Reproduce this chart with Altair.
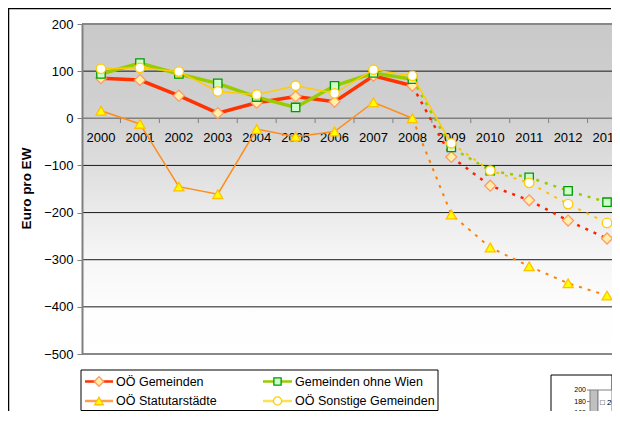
import altair as alt
import pandas as pd

# ---------------- data ----------------
years = list(range(2000, 2014))
series_names = ["OÖ Gemeinden", "Gemeinden ohne Wien", "OÖ Statutarstädte", "OÖ Sonstige Gemeinden"]
oo_gemeinden = [85, 81, 48, 11, 33, 46, 35, 90, 69, -82, -143, -174, -217, -255]
ohne_wien = [94, 117, 94, 74, 45, 23, 69, 96, 83, -62, -111, -125, -154, -178]
statutar = [16, -12, -145, -161, -23, -39, -28, 34, 0, -204, -274, -314, -350, -376]
sonstige = [105, 107, 99, 57, 50, 69, 53, 103, 90, -53, -111, -137, -182, -222]
solid_until = [2008, 2008, 2008, 2009]
y_ticks = [-500, -400, -300, -200, -100, 0, 100, 200]
grid_values = [100, -100, -200, -300, -400]
inset_labels = ["200", "180", "160"]

series_values = [oo_gemeinden, ohne_wien, statutar, sonstige]

# ---------------- styles ----------------
FONT = "Liberation Sans"
W, H = 530, 330
line_colors = ["#FF3300", "#99CC00", "#FF8C1A", "#FFCC00"]
dot_colors = ["#FF2200", "#99CC00", "#FF8000", "#FFC000"]
line_widths = [3.5, 3.5, 1.5, 1.5]
dot_widths = [2.5, 2.5, 2.0, 2.0]
shapes = ["diamond", "square", "triangle-up", "circle"]
fills = ["#FFF0A8", "#CCFFCC", "#FFFF00", "#FFFFFF"]
strokes = ["#FF9966", "#009900", "#FFC000", "#FFCC00"]
sizes = [120, 70, 100, 90]
legend_line_colors = ["#FF3300", "#99CC00", "#FFA050", "#FFE050"]

xscale = alt.Scale(domain=[1999.512, 2013.128], nice=False, zero=False)
yscale = alt.Scale(domain=[-500, 200], nice=False, zero=False)
yaxis = alt.Axis(
    values=y_ticks, grid=False, title="Euro pro EW",
    domainColor="#808080", domainWidth=2, tickColor="#808080", tickSize=5,
    labelFontSize=13, labelColor="black", labelPadding=4, labelFont=FONT,
    titleFont=FONT, titleFontSize=13.5, titleFontWeight="bold", titleColor="black",
    titleX=-56, titleY=164, titleAlign="center", titleBaseline="middle", titleAngle=-90,
    zindex=1,
)


def Y(field):
    return alt.Y(field, scale=yscale, axis=yaxis)


def X(field):
    return alt.X(field, scale=xscale, axis=None)


one = pd.DataFrame({"a": [0]})

# background gradient
bg = alt.Chart(one).mark_rect(
    color=alt.LinearGradient(
        gradient="linear", x1=0, x2=0, y1=0, y2=1,
        stops=[
            alt.GradientStop(color="#c9c9c9", offset=0),
            alt.GradientStop(color="#d2d2d2", offset=0.285),
            alt.GradientStop(color="#dedede", offset=0.43),
            alt.GradientStop(color="#ebebeb", offset=0.57),
            alt.GradientStop(color="#f6f6f6", offset=0.71),
            alt.GradientStop(color="#fdfdfd", offset=0.86),
            alt.GradientStop(color="#ffffff", offset=1),
        ],
    )
).encode(x=alt.value(0), x2=alt.value(W), y=alt.value(0), y2=alt.value(H))

grid_df = pd.DataFrame({"v": grid_values})
grid = alt.Chart(grid_df).mark_rule(color="#1a1a1a", strokeWidth=1).encode(y=Y("v:Q"))

border_df = pd.DataFrame({"v": [200, -500]})
borders = alt.Chart(border_df).mark_rule(color="#888888", strokeWidth=2).encode(y=Y("v:Q"))
zero_df = pd.DataFrame({"v": [0]})
zero_line = alt.Chart(zero_df).mark_rule(color="#808080", strokeWidth=1.5).encode(y=Y("v:Q"))
tick_df = pd.DataFrame({"b": [y + 0.5 for y in years[:-1]], "y0": 0, "y1": -10})
zticks = alt.Chart(tick_df).mark_rule(color="#808080", strokeWidth=1).encode(
    x=X("b:Q"), y=Y("y0:Q"), y2="y1:Q",
)
lab_df = pd.DataFrame({"year": years, "y0": 0, "lab": [str(y) for y in years]})
xlabels = alt.Chart(lab_df).mark_text(
    font=FONT, fontSize=13, color="black", dy=20, baseline="middle"
).encode(x=X("year:Q"), y=Y("y0:Q"), text="lab:N")

layers = [bg, grid, borders, zero_line, zticks, xlabels]

for i, name in enumerate(series_names):
    df = pd.DataFrame({"year": years, "value": series_values[i]})
    solid = df[df.year <= solid_until[i]]
    dotted = df[df.year >= solid_until[i]]
    enc = dict(x=X("year:Q"), y=Y("value:Q"))
    layers.append(alt.Chart(dotted).mark_line(
        color=dot_colors[i], strokeWidth=dot_widths[i], strokeDash=[3, 6]).encode(**enc))
    layers.append(alt.Chart(solid).mark_line(
        color=line_colors[i], strokeWidth=line_widths[i]).encode(**enc))
    layers.append(alt.Chart(df).mark_point(
        shape=shapes[i], filled=True, fill=fills[i], stroke=strokes[i],
        strokeWidth=1.3, size=sizes[i], opacity=1).encode(**enc))

# ---------------- legend ----------------
layers.append(alt.Chart(one).mark_rect(fill="white", stroke="black", strokeWidth=1).encode(
    x=alt.value(-1), x2=alt.value(356), y=alt.value(346), y2=alt.value(386.5)))
r1, r2 = 357.5, 377
leg_pos = [(3, 31, 17, 34, r1), (181, 210, 195.5, 213, r1),
           (3, 31, 17, 34, r2), (181, 210, 195.5, 213, r2)]
for i, name in enumerate(series_names):
    x1, x2, mx, tx, ly = leg_pos[i]
    layers.append(alt.Chart(one).mark_rule(color=legend_line_colors[i], strokeWidth=2.5).encode(
        x=alt.value(x1), x2=alt.value(x2), y=alt.value(ly)))
    layers.append(alt.Chart(one).mark_point(
        shape=shapes[i], filled=True, fill=fills[i], stroke=strokes[i], strokeWidth=1.3,
        size=sizes[i] * 0.75, opacity=1).encode(x=alt.value(mx), y=alt.value(ly)))
    layers.append(alt.Chart(one).mark_text(
        text=name, font=FONT, fontSize=12.5, align="left", baseline="middle", color="black"
    ).encode(x=alt.value(tx), y=alt.value(ly)))

# ---------------- cropped inset chart (bottom right) ----------------
layers.append(alt.Chart(one).mark_rect(fill="white", stroke="black", strokeWidth=1).encode(
    x=alt.value(469), x2=alt.value(W), y=alt.value(351), y2=alt.value(395)))
layers.append(alt.Chart(one).mark_rect(fill="#c0c0c0", stroke="#808080", strokeWidth=1).encode(
    x=alt.value(508), x2=alt.value(516), y=alt.value(366), y2=alt.value(395)))
layers.append(alt.Chart(one).mark_rect(fill="white", stroke="#808080", strokeWidth=1).encode(
    x=alt.value(516), x2=alt.value(W), y=alt.value(366), y2=alt.value(395)))
for j, lab in enumerate(inset_labels):
    yy = 366 + j * 11.5
    layers.append(alt.Chart(one).mark_text(
        text=lab, font=FONT, fontSize=7, align="right", baseline="middle", color="black"
    ).encode(x=alt.value(504), y=alt.value(yy)))
    layers.append(alt.Chart(one).mark_rule(color="#808080", strokeWidth=1).encode(
        x=alt.value(505), x2=alt.value(508), y=alt.value(yy)))
layers.append(alt.Chart(one).mark_text(
    text="□ 20", font=FONT, fontSize=8, align="left", baseline="middle", color="black"
).encode(x=alt.value(518), y=alt.value(379)))

# outer frame of the original chart (left and top edges)
layers.append(alt.Chart(one).mark_rule(color="black", strokeWidth=1.5).encode(
    x=alt.value(-73.5), y=alt.value(-16), y2=alt.value(400)))
layers.append(alt.Chart(one).mark_rule(color="black", strokeWidth=1.5).encode(
    x=alt.value(-74), x2=alt.value(W - 1), y=alt.value(-15.5), y2=alt.value(-15.5)))

chart = alt.layer(*layers).properties(
    width=W, height=H,
    autosize=alt.AutoSizeParams(type="none"),
    padding={"left": 74, "top": 16, "right": 0, "bottom": 57},
).configure_view(stroke=None).configure(font=FONT)

chart.save("out.html", embed_options={"renderer": "svg", "actions": False})
